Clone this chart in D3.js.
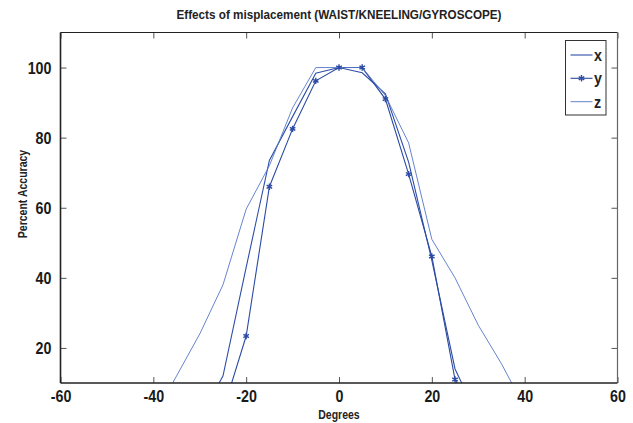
<!DOCTYPE html>
<html><head><meta charset="utf-8">
<script src="https://cdn.jsdelivr.net/npm/d3@7"></script>
<style>
body{margin:0;background:#fff;}
text{font-family:"Liberation Sans",Arial,sans-serif;font-weight:bold;}
</style></head>
<body><svg id="c" width="633" height="423"></svg>
<script>
const degrees = [-40,-35,-30,-25,-20,-15,-10,-5,0,5,10,15,20,25,30,35,40];
const seriesX = [0,0,0,12,43,73.5,86,98.4,100,98.5,92.5,73,45,14,0,0,0];
const seriesY = [0,0,0,2,23.4,66,82.5,96.2,100,100,91,69.6,46.1,11,0,0,0];
const seriesZ = [0,12,24,38,59.6,72,88.5,100,100,100,92,78.5,51,40,26.5,15.5,3];
const seriesNames = ["x","y","z"];
const xTicks = [-60,-40,-20,0,20,40,60];
const yTicks = [20,40,60,80,100];
const titleText = "Effects of misplacement (WAIST/KNEELING/GYROSCOPE)";
const xLabel = "Degrees";
const yLabel = "Percent Accuracy";

const svg = d3.select("#c");
const L=60.5, R=617.5, T=32.5, B=383;
const x = d3.scaleLinear().domain([-60,60]).range([L,R]);
const y = d3.scaleLinear().domain([10,110]).range([B,T]);
const fmt = d => String(d);

svg.append("defs").append("clipPath").attr("id","clip")
  .append("rect").attr("x",L).attr("y",T).attr("width",R-L).attr("height",B-T);

const colors = {x:"#2e4ea6", y:"#2b4aa3", z:"#5576c8"};
const data = {x:seriesX, y:seriesY, z:seriesZ};

const line = d3.line().x((d,i)=>x(degrees[i])).y(d=>y(d));
const g = svg.append("g").attr("clip-path","url(#clip)");
seriesNames.forEach(n=>{
  g.append("path").attr("d",line(data[n])).attr("fill","none")
   .attr("stroke",colors[n]).attr("stroke-width", n==="z"?0.9:1.1);
});
const star = d3.symbol().type(d3.symbolAsterisk).size(28);
g.selectAll(".m").data(seriesY.map((v,i)=>[degrees[i],v]).filter(d=>d[1]>=10))
  .enter().append("path").attr("d",star)
  .attr("transform",d=>`translate(${x(d[0])},${y(d[1])})`)
  .attr("fill","none").attr("stroke",colors.y).attr("stroke-width",1.4);

// axes
const xAxis = d3.axisBottom(x).tickValues(xTicks).tickSize(-6).tickPadding(7).tickFormat(fmt);
const yAxis = d3.axisLeft(y).tickValues(yTicks).tickSize(-6).tickPadding(9).tickFormat(fmt);
const xa = svg.append("g").attr("transform",`translate(0,${B})`).call(xAxis);
const ya = svg.append("g").attr("transform",`translate(${L},0)`).call(yAxis);
const xt = svg.append("g").attr("transform",`translate(0,${T})`).call(d3.axisTop(x).tickValues(xTicks).tickSize(-6).tickFormat(""));
const yr = svg.append("g").attr("transform",`translate(${R},0)`).call(d3.axisRight(y).tickValues(yTicks).tickSize(-6).tickFormat(""));
[xa,ya,xt,yr].forEach(a=>{
  a.select(".domain").remove();
  a.selectAll(".tick line").attr("stroke","#555").attr("stroke-width",1);
  a.selectAll("text").attr("font-size",17).attr("fill","#1a1a1a")
   .style("font-family",'"Liberation Sans",Arial,sans-serif').style("font-weight","bold").classed("cond",true);
});
// box
svg.append("line").attr("x1",L).attr("x2",R).attr("y1",T).attr("y2",T).attr("stroke","#222").attr("stroke-width",1.2);
svg.append("line").attr("x1",R).attr("x2",R).attr("y1",T).attr("y2",B).attr("stroke","#666").attr("stroke-width",1.2);
svg.append("line").attr("x1",L).attr("x2",R).attr("y1",B).attr("y2",B).attr("stroke","#222").attr("stroke-width",1.6);
svg.append("line").attr("x1",L).attr("x2",L).attr("y1",T).attr("y2",B).attr("stroke","#222").attr("stroke-width",1.6);

// title and labels
svg.append("text").attr("x",339).attr("y",19).attr("text-anchor","middle").attr("font-size",13).attr("fill","#222").attr("class","condT").text(titleText);
svg.append("text").attr("x",339).attr("y",419).attr("text-anchor","middle").attr("font-size",12.5).attr("fill","#222").attr("class","cond").text(xLabel);
svg.append("text").attr("transform","translate(27,194) rotate(-90)").attr("text-anchor","middle").attr("font-size",12.5).attr("fill","#222").attr("class","cond").text(yLabel);

// legend
const lg = svg.append("g");
lg.append("rect").attr("x",565.5).attr("y",40.5).attr("width",40.5).attr("height",74.5).attr("fill","#fff").attr("stroke","#333").attr("stroke-width",1);
const ly = [55,78.3,101.7];
seriesNames.forEach((n,i)=>{
  lg.append("line").attr("x1",570.5).attr("x2",592.5).attr("y1",ly[i]).attr("y2",ly[i]).attr("stroke",colors[n]).attr("stroke-width",n==="z"?0.9:1.1);
  if(n==="y") lg.append("path").attr("d",star).attr("transform",`translate(581.5,${ly[i]})`).attr("fill","none").attr("stroke",colors.y).attr("stroke-width",1.4);
  lg.append("text").attr("x",594).attr("y",ly[i]+6).attr("font-size",17).attr("fill","#222").attr("class","cond").text(n);
});

// condensed look
svg.selectAll("text.cond").each(function(){
  const len = this.getComputedTextLength();
  if(len>0) d3.select(this).attr("textLength",len*0.84).attr("lengthAdjust","spacingAndGlyphs");
});
svg.selectAll("text.condT").each(function(){
  const len = this.getComputedTextLength();
  if(len>0) d3.select(this).attr("textLength",len*0.9).attr("lengthAdjust","spacingAndGlyphs");
});
</script></body></html>
